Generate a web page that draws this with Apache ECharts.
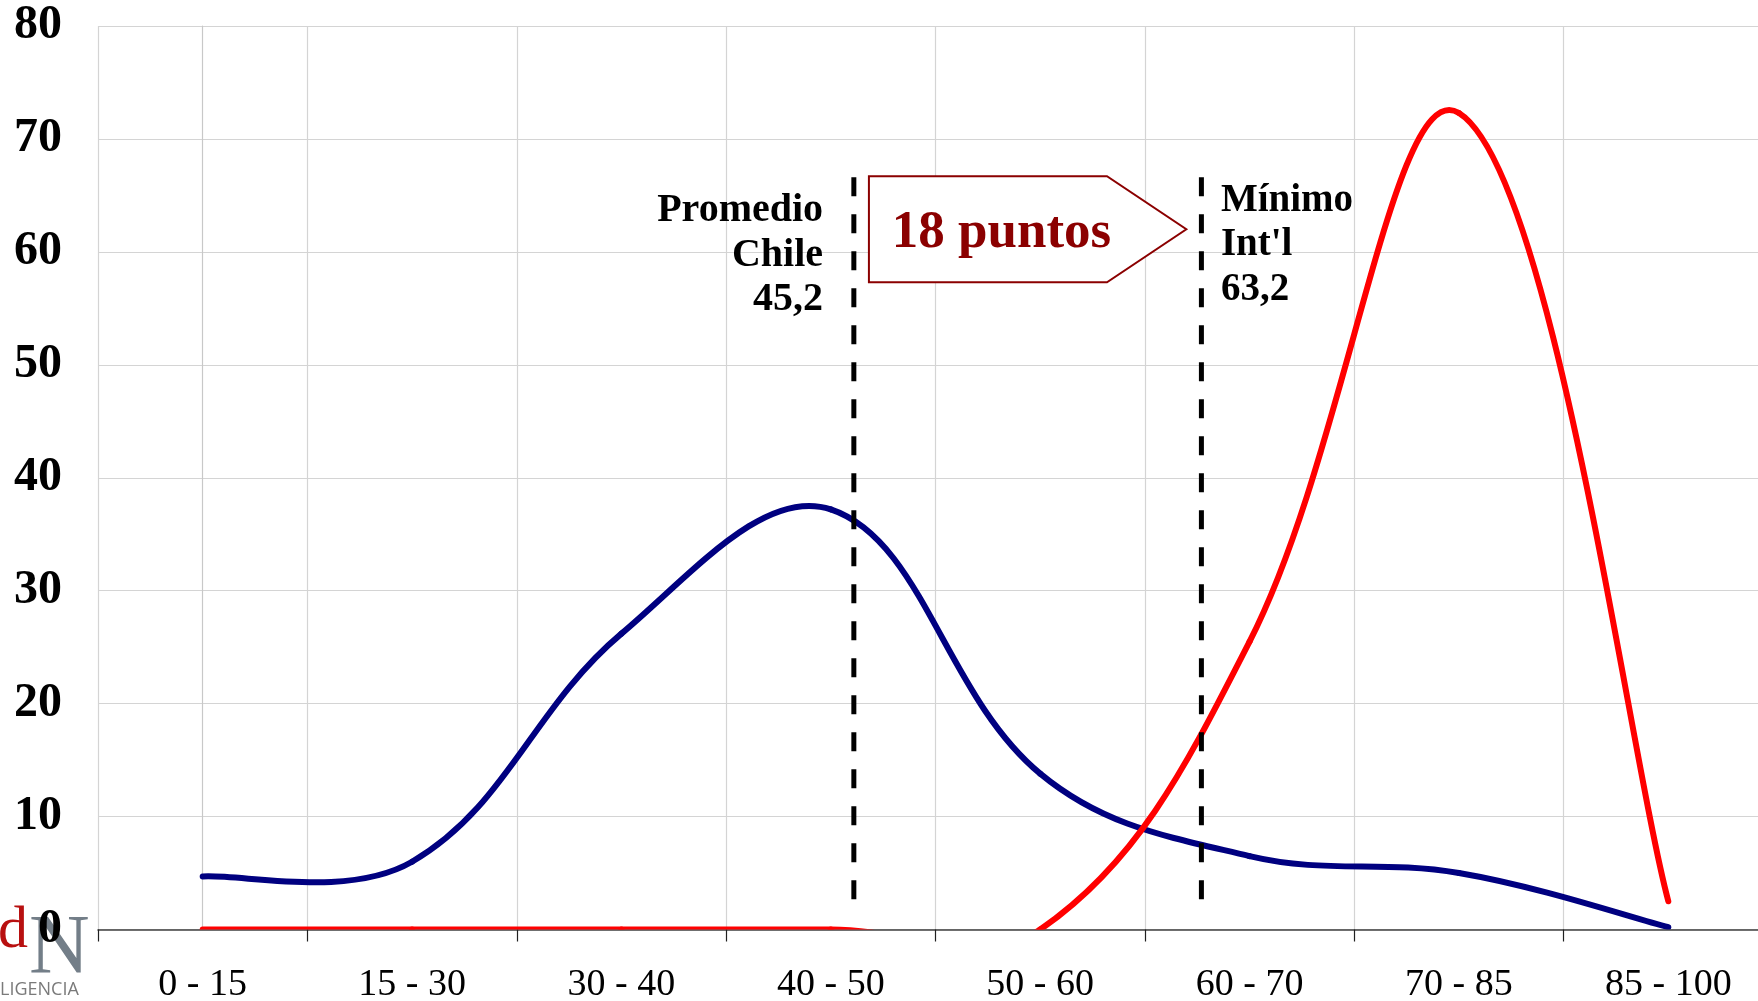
<!DOCTYPE html>
<html><head><meta charset="utf-8">
<script src="https://cdn.jsdelivr.net/npm/echarts@6/dist/echarts.min.js"></script>
<style>html,body{margin:0;padding:0;background:#fff}#c{width:1758px;height:1001px}</style>
</head><body><div id="c"></div>
<script>
// ---- data ----
const categories = ['0 - 15', '15 - 30', '30 - 40', '40 - 50', '50 - 60', '60 - 70', '70 - 85', '85 - 100'];
const chileValues = [4.7, 6.0, 26.2, 37.2, 13.8, 6.5, 5.0, 0.2];
const intlValues  = [0, 0, 0, 0, 0, 25.5, 72.3, 2.5];
const yMin = 0, yMax = 80, yInterval = 10;
const chileLabel = 'Promedio\nChile\n45,2';
const intlLabel = "Mínimo\nInt'l\n63,2";
const gapLabel = '18 puntos';

// ---- annotation placement (in axis units) ----
const chileMarkX = 3.11, intlMarkX = 4.77;
const markYRange = [66.6, 1.6];
const boxPts = [[3.182, 66.7], [4.319, 66.7], [4.698, 62.0], [4.319, 57.3], [3.182, 57.3]];
const gapTextPos = [3.815, 61.6];
const chileTextPos = [2.963, 59.7];
const intlTextPos = [4.863, 60.6];

const SERIF = '"Liberation Serif", "DejaVu Serif", serif';
const SMOOTH = 0.38;

// Spreadsheet-style smoothed segment (unconstrained Bezier through the points),
// positions taken from the axes via api.coord
function smoothSegment(values, color) {
  return function (params, api) {
    const i = params.dataIndex;
    const n = values.length;
    if (i >= n - 1) return null;
    const P = j => api.coord([Math.max(0, Math.min(n - 1, j)), values[Math.max(0, Math.min(n - 1, j))]]);
    const p0 = P(i - 1), p1 = P(i), p2 = P(i + 1), p3 = P(i + 2);
    const len = (a, b) => Math.hypot(b[0] - a[0], b[1] - a[1]);
    let c1, c2;
    if (i === 0) {
      c1 = [p1[0] + (p2[0] - p1[0]) * SMOOTH / 2, p1[1] + (p2[1] - p1[1]) * SMOOTH / 2];
    } else {
      const lp = len(p0, p1), ln = len(p1, p2), r = ln / (lp + ln);
      c1 = [p1[0] + (p2[0] - p0[0]) * SMOOTH * r, p1[1] + (p2[1] - p0[1]) * SMOOTH * r];
    }
    if (i + 1 === n - 1) {
      c2 = [p2[0] - (p2[0] - p1[0]) * SMOOTH / 2, p2[1] - (p2[1] - p1[1]) * SMOOTH / 2];
    } else {
      const lp = len(p1, p2), ln = len(p2, p3), r = lp / (lp + ln);
      c2 = [p2[0] - (p3[0] - p1[0]) * SMOOTH * r, p2[1] - (p3[1] - p1[1]) * SMOOTH * r];
    }
    return {
      type: 'bezierCurve',
      shape: {x1: p1[0], y1: p1[1], x2: p2[0], y2: p2[1], cpx1: c1[0], cpy1: c1[1], cpx2: c2[0], cpy2: c2[1]},
      style: {stroke: color, lineWidth: 6, fill: null, lineCap: 'round', lineJoin: 'round'}
    };
  };
}

const chart = echarts.init(document.getElementById('c'), null, {renderer: 'canvas'});

chart.setOption({
  animation: false,
  backgroundColor: '#fff',
  grid: {left: 98, right: -15, top: 26, bottom: 71.5, containLabel: false, outerBoundsMode: 'none'},
  xAxis: [{
    type: 'category', data: categories, boundaryGap: true,
    axisLine: {show: true, lineStyle: {color: '#404040', width: 1.5}},
    axisTick: {show: true, alignWithLabel: false, length: 12, lineStyle: {color: '#202020', width: 1.2}},
    axisLabel: {fontFamily: SERIF, fontSize: 38, color: '#000', margin: 37, interval: 0},
    splitLine: {show: true, lineStyle: {color: '#d4d4d4', width: 1.2}}
  }, {
    type: 'value', min: -0.5, max: 7.5, show: false,
    axisLine: {show: false}, axisTick: {show: false}, axisLabel: {show: false}, splitLine: {show: false}
  }],
  yAxis: {
    type: 'value', min: yMin, max: yMax, interval: yInterval,
    axisLine: {show: true, lineStyle: {color: '#c8c8c8', width: 1.2}},
    axisTick: {show: false},
    axisLabel: {fontFamily: SERIF, fontWeight: 'bold', fontSize: 48, color: '#000', margin: 36, padding: [13, 0, 0, 0]},
    splitLine: {show: true, lineStyle: {color: '#d4d4d4', width: 1.2}}
  },
  series: [{
    name: 'Chile', type: 'custom', xAxisIndex: 0, yAxisIndex: 0, clip: true, z: 2,
    data: chileValues.map((v, i) => [i, v]),
    renderItem: smoothSegment(chileValues, '#000080')
  }, {
    name: 'Internacional', type: 'custom', xAxisIndex: 0, yAxisIndex: 0, clip: true, z: 3,
    data: intlValues.map((v, i) => [i, v]),
    renderItem: smoothSegment(intlValues, '#ff0000')
  }, {
    name: 'chileMark', type: 'line', xAxisIndex: 1, symbol: 'none', silent: true,
    data: [[chileMarkX, markYRange[0]], [chileMarkX, markYRange[1]]],
    lineStyle: {color: '#000', width: 5, type: [19, 18]}, z: 4
  }, {
    name: 'intlMark', type: 'line', xAxisIndex: 1, symbol: 'none', silent: true,
    data: [[intlMarkX, markYRange[0]], [intlMarkX, markYRange[1]]],
    lineStyle: {color: '#000', width: 5, type: [19, 18]}, z: 4
  }, {
    name: 'annotations', type: 'custom', xAxisIndex: 1, yAxisIndex: 0, clip: false, silent: true, z: 5,
    data: [[0, 0]],
    renderItem: function (params, api) {
      const pts = boxPts.map(p => api.coord(p));
      const g = api.coord(gapTextPos);
      const c = api.coord(chileTextPos);
      const m = api.coord(intlTextPos);
      return {type: 'group', children: [
        {type: 'polygon', shape: {points: pts}, style: {fill: '#fff', stroke: '#8b0000', lineWidth: 2}},
        {type: 'text', style: {text: gapLabel, x: g[0], y: g[1], fill: '#8b0000',
          font: 'bold 53px ' + SERIF, align: 'center', verticalAlign: 'middle'}},
        {type: 'text', style: {text: chileLabel, x: c[0], y: c[1], fill: '#000',
          font: 'bold 40px ' + SERIF, align: 'right', verticalAlign: 'middle', lineHeight: 44.5}},
        {type: 'text', style: {text: intlLabel, x: m[0], y: m[1], fill: '#000',
          font: 'bold 39px ' + SERIF, align: 'left', verticalAlign: 'middle', lineHeight: 44.5}}
      ]};
    }
  }],
  graphic: [
    {type: 'text', z: -10, left: -2, top: 901, style: {text: 'd', fill: '#b81010', font: '60px ' + SERIF}},
    {type: 'text', z: -10, left: 29, top: 909, style: {text: 'N', fill: '#737e88', font: '84px ' + SERIF}},
    {type: 'text', z: -10, left: 0, top: 981, style: {text: 'LIGENCIA', fill: '#7a7a7a', font: '18px "Open Sans", sans-serif'}}
  ]
});
</script>
</body></html>
